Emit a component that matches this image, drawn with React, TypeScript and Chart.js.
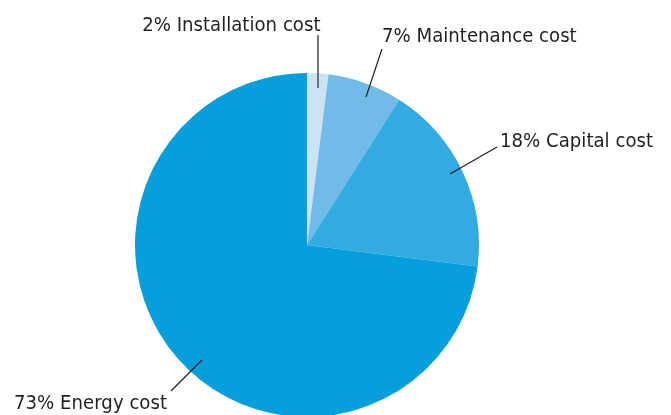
import React, { useEffect, useRef } from "react";
import { Chart, registerables } from "chart.js";

Chart.register(...registerables);

const categories = ["Installation cost", "Maintenance cost", "Capital cost", "Energy cost"];
const shares = [2, 7, 18, 73];
const colors = ["#cde3f4", "#70bbe8", "#33aae0", "#069fdb"];

// annotation layout: leader line (inner -> outer) and text anchor
const labelLayout = [
  { x1: 318, y1: 88, x2: 318, y2: 35, tx: 320.5, ty: 31, align: "right" },
  { x1: 366, y1: 97, x2: 382, y2: 49, tx: 382, ty: 42, align: "left" },
  { x1: 450, y1: 174, x2: 497, y2: 147, tx: 500, ty: 147, align: "left" },
  { x1: 202, y1: 360, x2: 171, y2: 391, tx: 167, ty: 409, align: "right" },
];

const labelPlugin = {
  id: "pieLabels",
  afterDraw(chart: any) {
    const ctx = chart.ctx;
    categories.forEach((c, i) => {
      const l = labelLayout[i];
      ctx.save();
      ctx.strokeStyle = i === 0 ? "#555555" : "#231f20";
      ctx.lineWidth = i === 0 ? 1.6 : 1.2;
      ctx.beginPath();
      ctx.moveTo(l.x1, l.y1);
      ctx.lineTo(l.x2, l.y2);
      ctx.stroke();
      ctx.translate(l.tx, l.ty);
      ctx.scale(0.93, 1);
      ctx.font = "19.5px 'DejaVu Sans', sans-serif";
      ctx.fillStyle = "#231f20";
      ctx.textBaseline = "alphabetic";
      ctx.textAlign = l.align;
      ctx.fillText(`${shares[i]}% ${c}`, 0, 0);
      ctx.restore();
    });
  },
};

export default function App() {
  const ref = useRef<HTMLCanvasElement>(null);
  useEffect(() => {
    const chart = new Chart(ref.current!, {
      type: "pie",
      data: {
        labels: categories,
        datasets: [
          {
            data: shares,
            backgroundColor: colors,
            borderWidth: 0,
          },
        ],
      },
      options: {
        animation: false,
        responsive: true,
        maintainAspectRatio: false,
        layout: { padding: { left: 135, right: 192, top: 73, bottom: 13 } },
        plugins: { legend: { display: false }, tooltip: { enabled: false } },
      },
      plugins: [labelPlugin],
    });
    return () => chart.destroy();
  }, []);
  return (
    <div style={{ position: "fixed", left: 0, top: 0, width: 671, height: 415, overflow: "hidden", background: "#fff" }}>
      <div style={{ position: "relative", width: 671, height: 430 }}>
        <canvas ref={ref} />
      </div>
    </div>
  );
}
